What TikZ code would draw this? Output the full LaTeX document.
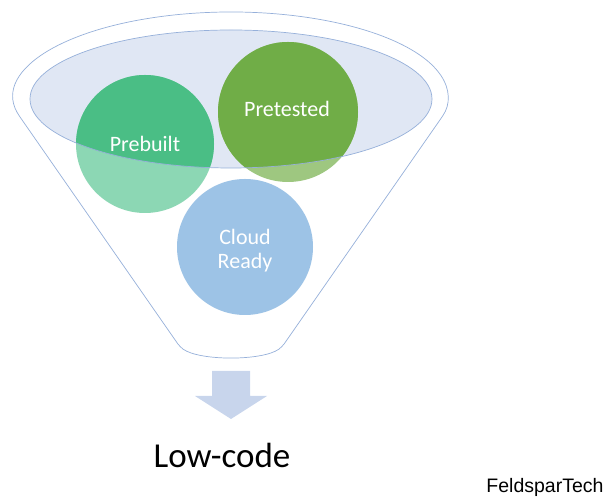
\documentclass[tikz,border=0pt]{standalone}
\usepackage{fontspec}
\setmainfont{Carlito}
\newfontfamily\brandfont{Liberation Sans}
\usepackage{tikz}

\definecolor{funnelline}{RGB}{150,176,218}
\definecolor{bowlfill}{RGB}{224,231,244}
\definecolor{builtdark}{RGB}{74,190,133}
\definecolor{builtlight}{RGB}{140,215,180}
\definecolor{testdark}{RGB}{112,173,71}
\definecolor{testlight}{RGB}{158,199,128}
\definecolor{cloudblue}{RGB}{157,195,230}
\definecolor{arrowblue}{RGB}{200,213,236}

\tikzset{
    label/.style={text=white, font=\fontsize{22}{24}\selectfont, align=center},
    outline/.style={draw=funnelline, line width=0.7pt}
}

\begin{document}
\begin{tikzpicture}[x=1pt, y=1pt]
    \useasboundingbox (0, 0) rectangle (608, 497);

    % Funnel body
    \draw[outline, fill=white, rounded corners=4pt] (21.4, 378)
        arc[start angle=195, end angle=-15, x radius=217, y radius=85]
        -- (282, 150) .. controls (262, 136) and (200, 136) .. (180, 150) -- cycle;

    % Mouth of the funnel
    \fill[bowlfill] (231, 398) ellipse[x radius=201, y radius=69];

    % Circles, lighter where they stick out of the mouth
    \fill[builtlight] (145, 353) circle[radius=69];
    \fill[testlight] (288, 385) circle[radius=70];
    \begin{scope}
        \clip (231, 398) ellipse[x radius=201, y radius=69];
        \fill[builtdark] (145, 353) circle[radius=69];
        \fill[testdark] (288, 385) circle[radius=70];
    \end{scope}
    \fill[cloudblue] (245, 250) circle[radius=68];
    \draw[outline] (231, 398) ellipse[x radius=201, y radius=69];

    % Labels in circles
    \node[label, anchor=base] (prebuilt) at (145, 345) {Prebuilt};
    \node[label, anchor=base] (pretested) at (287, 380) {Pretested};
    \node[label] (cloud) at (245, 246) {Cloud\\Ready};

    % Down arrow
    \fill[arrowblue] (212, 126) -- (250, 126) -- (250, 101) -- (267, 101)
        -- (231, 78) -- (195, 101) -- (212, 101) -- cycle;

    % Result
    \node[anchor=base, font=\fontsize{35}{40}\selectfont] (lowcode) at (222, 29) {Low-code};
    \node[anchor=base east, font=\brandfont\fontsize{19.5}{21}\selectfont] (brand) at (607, 4) {FeldsparTech};
\end{tikzpicture}
\end{document}
